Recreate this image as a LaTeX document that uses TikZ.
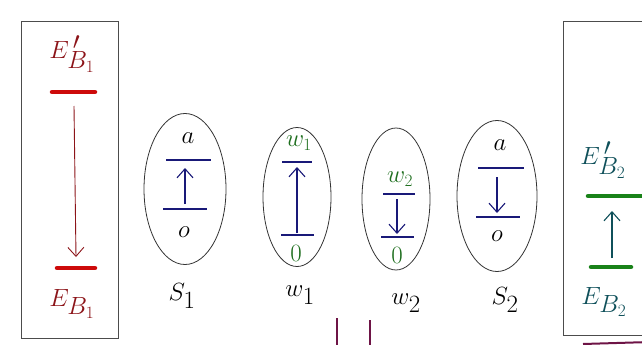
\documentclass[tikz,border=0pt]{standalone}
\usetikzlibrary{arrows.meta,shapes.geometric}
\definecolor{dred}{RGB}{140,20,25}
\definecolor{bred}{RGB}{205,10,10}
\definecolor{navy}{RGB}{25,25,120}
\definecolor{dgreen}{RGB}{30,110,30}
\definecolor{bgreen}{RGB}{25,130,25}
\definecolor{teal2}{RGB}{15,80,90}
\definecolor{purp}{RGB}{110,20,70}
\tikzset{
  frame/.style={draw=black!70, line width=0.8pt},
  oval/.style={draw=black!80, line width=0.8pt, ellipse, inner sep=0pt},
  lvl/.style={navy, line width=1.2pt},
  redbar/.style={bred, line width=4.5pt, line cap=round},
  greenbar/.style={bgreen, line width=4.5pt, line cap=round},
  harr/.style={-{Straight Barb[length=9pt,width=16pt]}, line width=1.1pt},
  big/.style={font=\fontsize{33}{36}\selectfont},
  inner/.style={font=\fontsize{28}{30}\selectfont},
  mid/.style={font=\fontsize{25}{27}\selectfont},
}
\begin{document}
\begin{tikzpicture}[x=1pt,y=-1pt]
\useasboundingbox (0,0) rectangle (642,345);
% left box
\draw[frame] (21,21) rectangle (118,338);
\node[big, text=dred] (eb1p) at (72,54) {$E_{B_1}^{\,\prime}$};
\draw[redbar] (52,92) -- (95,92);
\coordinate (a1s) at (74,106);
\coordinate (a1e) at (76,257);
\draw[harr, dred, line width=0.9pt] (a1s) -- (a1e);
\draw[redbar] (57,268) -- (95,268);
\node[big, text=dred] (eb1) at (72,304) {$E_{B_1}$};
% S1
\node[oval, minimum width=82pt, minimum height=151pt] (s1) at (185,189) {};
\node[inner] (s1a) at (188,138) {$a$};
\draw[lvl] (166,160) -- (211,160);
\coordinate (s1lo) at (185,204);
\coordinate (s1hi) at (185,168);
\draw[harr, navy] (s1lo) -- (s1hi);
\draw[lvl] (163,209) -- (207,209);
\node[inner] (s1o) at (184,232) {$o$};
\node[big] (s1l) at (182,296) {$S_1$};
% W1
\node[oval, minimum width=68pt, minimum height=139pt] (w1) at (297,197) {};
\node[mid, text=dgreen] (w1t) at (299,143) {$w_1$};
\draw[lvl] (282,162) -- (312,162);
\coordinate (w1lo) at (297,233);
\coordinate (w1hi) at (297,167);
\draw[harr, navy] (w1lo) -- (w1hi);
\draw[lvl] (281,235) -- (314,235);
\node[mid, text=dgreen] (w1o) at (296,253) {$0$};
\node[big] (w1l) at (300,295) {$w_1$};
% W2
\node[oval, minimum width=68pt, minimum height=142pt] (w2) at (396,199) {};
\node[mid, text=dgreen] (w2t) at (400,179) {$w_2$};
\draw[lvl] (383,194) -- (415,194);
\coordinate (w2hi) at (397,199);
\coordinate (w2lo) at (397,234);
\draw[harr, navy] (w2hi) -- (w2lo);
\draw[lvl] (381,237) -- (414,237);
\node[mid, text=dgreen] (w2o) at (397,255) {$0$};
\node[big] (w2l) at (406,303) {$w_2$};
% S2
\node[oval, minimum width=80pt, minimum height=151pt] (s2) at (497,196) {};
\node[inner] (s2a) at (500,145) {$a$};
\draw[lvl] (478,168) -- (524,168);
\coordinate (s2hi) at (497,177);
\coordinate (s2lo) at (497,213);
\draw[harr, navy] (s2hi) -- (s2lo);
\draw[lvl] (476,217) -- (520,217);
\node[inner] (s2o) at (497,236) {$o$};
\node[big] (s2l) at (505,300) {$S_2$};
% right box
\draw[frame] (650,21) -- (563,21) -- (563,335) -- (650,335);
\node[big, text=teal2] (eb2p) at (603,160) {$E_{B_2}^{\,\prime}$};
\draw[greenbar] (588,196) -- (650,196);
\coordinate (a2s) at (612,258);
\coordinate (a2e) at (612,211);
\draw[harr, teal2] (a2s) -- (a2e);
\draw[greenbar] (591,267) -- (631,267);
\node[big, text=teal2] (eb2) at (604,302) {$E_{B_2}$};
% purple strokes at bottom
\coordinate (p1a) at (337,318);
\coordinate (p1b) at (337,350);
\coordinate (p2a) at (370,320);
\coordinate (p2b) at (370,350);
\draw[purp, line width=1.4pt] (p1a) -- (p1b);
\draw[purp, line width=1.4pt] (p2a) -- (p2b);
\coordinate (p3a) at (583,344);
\coordinate (p3b) at (650,342);
\draw[purp, line width=2pt] (p3a) -- (p3b);
\end{tikzpicture}
\end{document}
